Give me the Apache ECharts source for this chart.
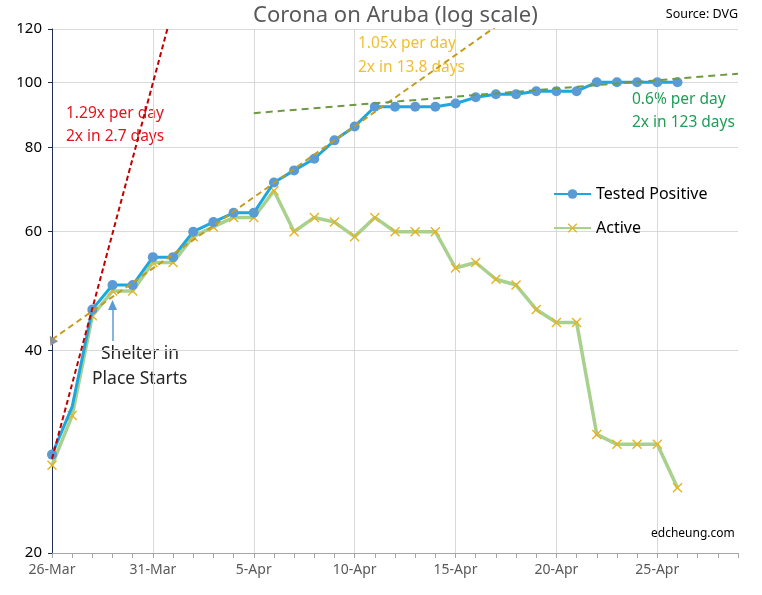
<!DOCTYPE html>
<html>
<head>
<meta charset="utf-8">
<script src="https://cdn.jsdelivr.net/npm/echarts@6/dist/echarts.min.js"></script>
<style>
html,body{margin:0;padding:0;background:#fff;}
#chart{width:762px;height:595px;}
</style>
</head>
<body>
<div id="chart"></div>
<script>
var dates = ['26-Mar','27-Mar','28-Mar','29-Mar','30-Mar','31-Mar','1-Apr','2-Apr','3-Apr','4-Apr','5-Apr','6-Apr','7-Apr','8-Apr','9-Apr','10-Apr','11-Apr','12-Apr','13-Apr','14-Apr','15-Apr','16-Apr','17-Apr','18-Apr','19-Apr','20-Apr','21-Apr','22-Apr','23-Apr','24-Apr','25-Apr','26-Apr','27-Apr','28-Apr','29-Apr'];
var testedPositive = [28,33,46,50,50,55,55,60,62,64,64,71,74,77,82,86,92,92,92,92,93,95,96,96,97,97,97,100,100,100,100,100];
var active = [27,32,45,49,49,54,54,59,61,63,63,69,60,63,62,59,63,60,60,60,53,54,51,50,46,44,44,30,29,29,29,25];
var yTicks = [20,40,60,80,100,120];
var redTrend = [[0,27.6],[6,129]];
var goldTrend = [[0,41.5],[22,121]];
var greenTrend = [[10,90],[34,103]];
var shelterArrow = [[3,41.3],[3,46.7]];

var FONT = '"Noto Sans", "Open Sans", sans-serif';
var xMark = 'path://M0,1 L1,0 L5,4 L9,0 L10,1 L6,5 L10,9 L9,10 L5,6 L1,10 L0,9 L4,5 Z';

var chart = echarts.init(document.getElementById('chart'));
chart.setOption({
  animation: false,
  textStyle: {fontFamily: FONT},
  title: {
    text: 'Corona on Aruba (log scale)',
    left: 248, top: 0,
    textStyle: {fontFamily: FONT, fontSize: 22, fontWeight: 'normal', color: '#595959'}
  },
  grid: {left: 52, right: 24, top: 29, bottom: 42, containLabel: false},
  legend: {
    data: ['Tested Positive', 'Active'],
    orient: 'vertical',
    left: 548, top: 181,
    itemWidth: 37, itemHeight: 12, itemGap: 18,
    textStyle: {fontFamily: FONT, fontSize: 16, color: '#000'}
  },
  xAxis: {
    type: 'category',
    data: dates,
    boundaryGap: false,
    axisLine: {lineStyle: {color: '#A6A6A6', width: 1}},
    axisTick: {show: true, interval: 0, length: 5, lineStyle: {color: '#A6A6A6'}},
    axisLabel: {interval: 4, color: '#595959', fontSize: 14, margin: 10, fontFamily: FONT},
    splitLine: {show: true, interval: 4, lineStyle: {color: '#D9D9D9', width: 1}}
  },
  yAxis: {
    type: 'log',
    logBase: 10,
    min: 20, max: 120,
    axisLine: {show: true, lineStyle: {color: '#1F2D4F', width: 1}},
    axisTick: {show: true, length: 4, customValues: yTicks, lineStyle: {color: '#1F2D4F'}},
    axisLabel: {customValues: yTicks, color: '#000', fontSize: 15, margin: 10, fontFamily: FONT},
    splitLine: {show: true, lineStyle: {color: '#D9D9D9', width: 1}}
  },
  series: [
    {
      name: 'Active', type: 'line', data: active, z: 2,
      symbol: xMark, symbolSize: 10, showAllSymbol: true,
      lineStyle: {color: '#A9D18E', width: 3.5},
      itemStyle: {color: '#E6B422'}
    },
    {
      name: 'Tested Positive', type: 'line', data: testedPositive, z: 3,
      symbol: function (v, p) { return p.dataIndex === 1 ? 'none' : 'circle'; },
      symbolSize: 10, showAllSymbol: true,
      lineStyle: {color: '#1BA8E0', width: 3},
      itemStyle: {color: '#5B9BD5'},
      markLine: {
        silent: true,
        symbol: ['none', 'triangle'], symbolSize: [9, 10],
        label: {show: false},
        lineStyle: {color: '#5B9BD5', width: 1.5, type: 'solid'},
        data: [[{coord: shelterArrow[0]}, {coord: shelterArrow[1]}]]
      }
    },
    {
      name: 'redTrend', type: 'line', data: redTrend, z: 4, symbol: 'none',
      lineStyle: {color: '#C00000', width: 2, type: [5, 3]}
    },
    {
      name: 'goldTrend', type: 'line', data: goldTrend, z: 4,
      symbol: function (v, p) { return p.dataIndex === 0 ? 'triangle' : 'none'; },
      symbolSize: 9, symbolRotate: 30,
      itemStyle: {color: '#909090'},
      lineStyle: {color: '#C49A1B', width: 2, type: [6, 4]}
    },
    {
      name: 'greenTrend', type: 'line', data: greenTrend, z: 4, symbol: 'none',
      lineStyle: {color: '#6E9A43', width: 2, type: [7, 5]}
    }
  ],
  graphic: [
    {type: 'text', left: 66, top: 106, style: {text: '1.29x per day', fill: '#E3141E', font: '15.5px ' + FONT}},
    {type: 'text', left: 66, top: 129, style: {text: '2x in 2.7 days', fill: '#E3141E', font: '15.5px ' + FONT}},
    {type: 'text', left: 358, top: 36, style: {text: '1.05x per day', fill: '#F0C030', font: '15.5px ' + FONT}},
    {type: 'text', left: 358, top: 60, style: {text: '2x in 13.8 days', fill: '#F0C030', font: '15.5px ' + FONT}},
    {type: 'text', left: 632, top: 92, style: {text: '0.6% per day', fill: '#1E9E55', font: '15.5px ' + FONT}},
    {type: 'text', left: 632, top: 115, style: {text: '2x in 123 days', fill: '#1E9E55', font: '15.5px ' + FONT}},
    {type: 'text', left: 101, top: 345, style: {text: 'Shelter in', fill: '#262626', font: '17.5px ' + FONT}},
    {type: 'text', left: 92, top: 370, style: {text: 'Place Starts', fill: '#262626', font: '17.5px ' + FONT}},
    {type: 'text', right: 24, top: 8, style: {text: 'Source: DVG', fill: '#000', font: '12.5px ' + FONT}},
    {type: 'text', left: 651, top: 528, style: {text: 'edcheung.com', fill: '#000', font: '12px ' + FONT}}
  ]
});
</script>
</body>
</html>
